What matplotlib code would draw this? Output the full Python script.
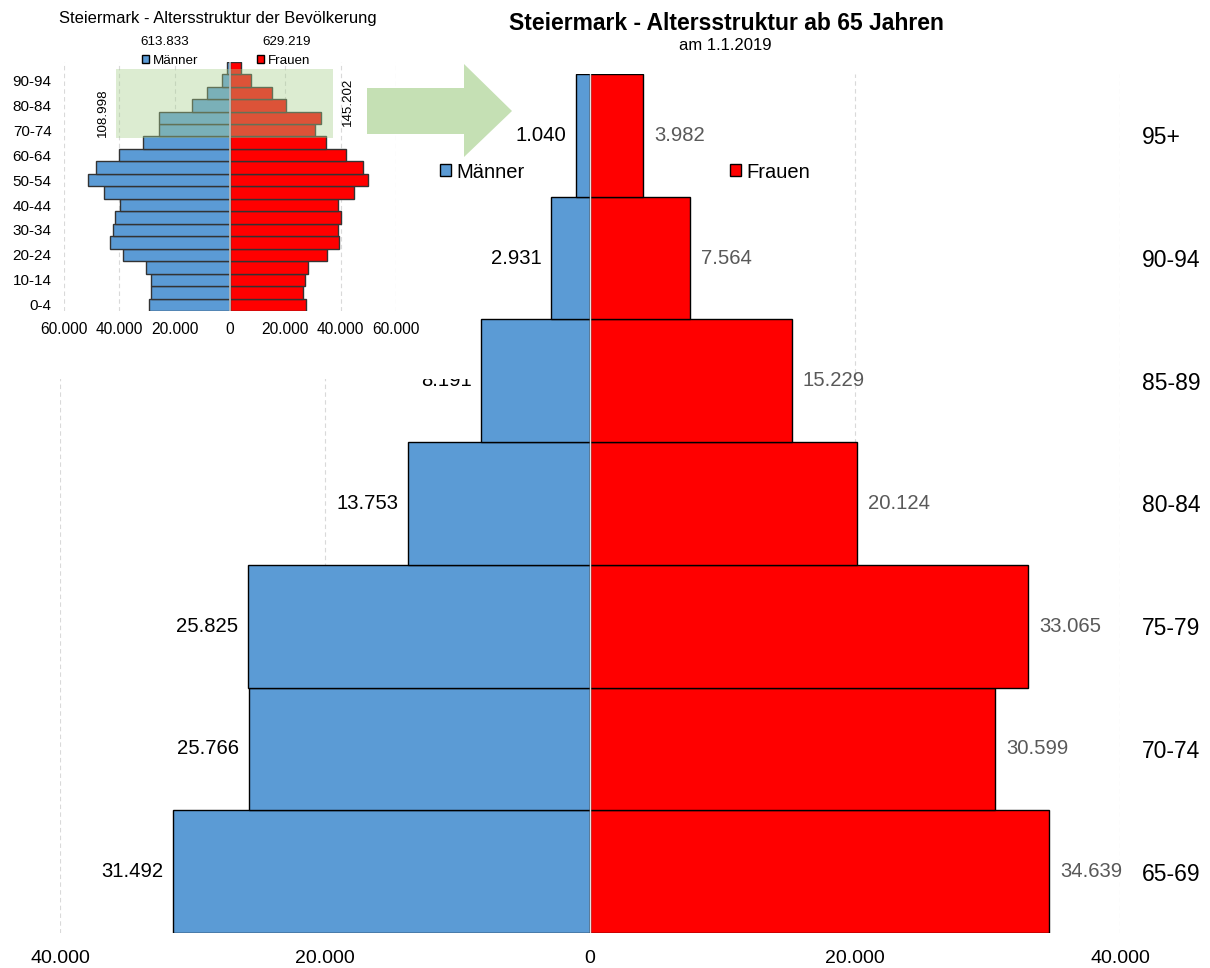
import matplotlib
matplotlib.use("Agg")
import matplotlib.pyplot as plt
from matplotlib.patches import Patch, Rectangle, Polygon

plt.rcParams['font.family'] = ['Liberation Sans', 'DejaVu Sans']

# main chart: 65+ by age group
ages_65 = ["65-69", "70-74", "75-79", "80-84", "85-89", "90-94", "95+"]
men_65 = [31492, 25766, 25825, 13753, 8191, 2931, 1040]
women_65 = [34639, 30599, 33065, 20124, 15229, 7564, 3982]

# inset: full population by age group
ages_all = ["0-4", "5-9", "10-14", "15-19", "20-24", "25-29", "30-34", "35-39",
            "40-44", "45-49", "50-54", "55-59", "60-64", "65-69", "70-74",
            "75-79", "80-84", "85-89", "90-94", "95+"]
men_all = [29300, 28700, 28400, 30300, 38500, 43400, 42200, 41700, 39800, 45600,
           51400, 48600, 40000, 31492, 25766, 25825, 13753, 8191, 2931, 1040]
women_all = [27300, 26300, 27200, 28100, 35200, 39500, 39200, 40100, 39000, 44800,
             49700, 48100, 41900, 34639, 30599, 33065, 20124, 15229, 7564, 3982]
total_men = "613.833"
total_women = "629.219"
sum_men_65 = "108.998"
sum_women_65 = "145.202"

BLUE = "#5B9BD5"
RED = "#FF0000"
W, H = 1210, 968


def fx(px):
    return px / W


def fy(py):
    return 1 - py / H


def fmt(v):
    return f"{abs(int(v)):,}".replace(",", ".")


fig = plt.figure(figsize=(12.1, 9.68), dpi=100)

# ---- main pyramid ----
ax = fig.add_axes([fx(60), fy(933), fx(1120) - fx(60), fy(74) - fy(933)])
y = list(range(len(ages_65)))
ax.barh(y, [-m for m in men_65], height=1.0, color=BLUE, edgecolor="black", linewidth=1)
ax.barh(y, women_65, height=1.0, color=RED, edgecolor="black", linewidth=1)
ax.axvline(0, color="#E0E0E0", lw=1, zorder=3)
for xv in [-40000, -20000, 20000, 40000]:
    ax.axvline(xv, color="#D9D9D9", lw=0.8, ls=(0, (4, 3)), zorder=0)
for i in y:
    ax.annotate(fmt(men_65[i]), (-men_65[i], i), xytext=(-7, 0), textcoords="offset points",
                ha="right", va="center", fontsize=14.6, color="black")
    ax.annotate(fmt(women_65[i]), (women_65[i], i), xytext=(8, 0), textcoords="offset points",
                ha="left", va="center", fontsize=14.6, color="#595959")
ax.set_xlim(-40000, 40000)
ax.set_ylim(-0.5, len(ages_65) - 0.5)
ax.set_xticks([-40000, -20000, 0, 20000, 40000])
ax.set_xticklabels([fmt(v) for v in [-40000, -20000, 0, 20000, 40000]], fontsize=14)
ax.set_yticks(y)
ax.set_yticklabels(ages_65, fontsize=16.5)
ax.yaxis.tick_right()
ax.tick_params(axis="y", length=0, pad=16)
ax.tick_params(axis="x", length=0, pad=12)
for s in ax.spines.values():
    s.set_visible(False)

fig.text(fx(726), fy(24), "Steiermark - Altersstruktur ab 65 Jahren", ha="center", va="center",
         fontsize=16.5, fontweight="bold")
fig.text(fx(725), fy(46), "am 1.1.2019", ha="center", va="center", fontsize=12)

fig.legend(handles=[Patch(facecolor=BLUE, edgecolor="black", label="Männer"),
                    Patch(facecolor=RED, edgecolor="black", label="Frauen")],
           loc="center left", bbox_to_anchor=(fx(440), fy(172)), ncol=2, frameon=False,
           fontsize=14.5, handlelength=0.55, handleheight=0.55, handletextpad=0.25,
           columnspacing=10.2, borderpad=0, borderaxespad=0)

# ---- inset background ----
fig.patches.append(Rectangle((0, fy(379)), fx(472), 1 - fy(379), transform=fig.transFigure,
                             facecolor="white", edgecolor="none", zorder=1))

# ---- inset pyramid ----
ins = fig.add_axes([fx(64), fy(311), fx(396) - fx(64), fy(61.7) - fy(311)], zorder=2)
ins.set_facecolor("none")
yi = list(range(len(ages_all)))
ins.barh(yi, [-m for m in men_all], height=1.0, color=BLUE, edgecolor="#333333", linewidth=1)
ins.barh(yi, women_all, height=1.0, color=RED, edgecolor="#333333", linewidth=1)
for xv in [-60000, -40000, -20000, 20000, 40000, 60000]:
    ins.axvline(xv, color="#D9D9D9", lw=0.8, ls=(0, (4, 3)), zorder=0)
ins.add_patch(Rectangle((-41100, 13.4), 41100 + 37100, 18.9 - 13.4, facecolor="#A9D18E",
                        alpha=0.4, edgecolor="none", zorder=3))
ins.axvline(0, color="#BFBFBF", lw=1.2, zorder=4)
ins.set_xlim(-60000, 60000)
ins.set_ylim(-0.5, len(ages_all) - 0.5)
ins.set_xticks([-60000, -40000, -20000, 0, 20000, 40000, 60000])
ins.set_xticklabels([fmt(v) for v in [-60000, -40000, -20000, 0, 20000, 40000, 60000]],
                    fontsize=11.2)
ins.set_yticks(yi[::2])
ins.set_yticklabels(ages_all[::2], fontsize=11)
ins.tick_params(axis="both", length=0)
ins.tick_params(axis="y", pad=9)
ins.tick_params(axis="x", pad=8)
for s in ins.spines.values():
    s.set_visible(False)

fig.text(fx(218), fy(18), "Steiermark - Altersstruktur der Bevölkerung", ha="center",
         va="center", fontsize=11.9, zorder=5)
fig.text(fx(165), fy(42), total_men, ha="center", va="center", fontsize=9.6, zorder=5)
fig.text(fx(287), fy(42), total_women, ha="center", va="center", fontsize=9.6, zorder=5)
fig.text(fx(103), fy(113), sum_men_65, ha="center", va="center", fontsize=9.6,
         rotation=90, zorder=5)
fig.text(fx(348), fy(102), sum_women_65, ha="center", va="center", fontsize=9.6,
         rotation=90, zorder=5)
leg2 = fig.legend(handles=[Patch(facecolor=BLUE, edgecolor="black", label="Männer"),
                           Patch(facecolor=RED, edgecolor="black", label="Frauen")],
                  loc="center left", bbox_to_anchor=(fx(142), fy(61)), ncol=2, frameon=False,
                  fontsize=9.6, handlelength=0.5, handleheight=0.5, handletextpad=0.3,
                  columnspacing=4.4, borderpad=0, borderaxespad=0)
leg2.set_zorder(5)

# ---- block arrow ----
arrow_px = [(367, 88), (464, 88), (464, 64), (512, 111), (464, 157), (464, 134), (367, 134)]
fig.patches.append(Polygon([(fx(px), fy(py)) for px, py in arrow_px], closed=True,
                           transform=fig.transFigure, facecolor="#C5E0B4", edgecolor="none",
                           zorder=6))

fig.savefig("out.png", dpi=100)
